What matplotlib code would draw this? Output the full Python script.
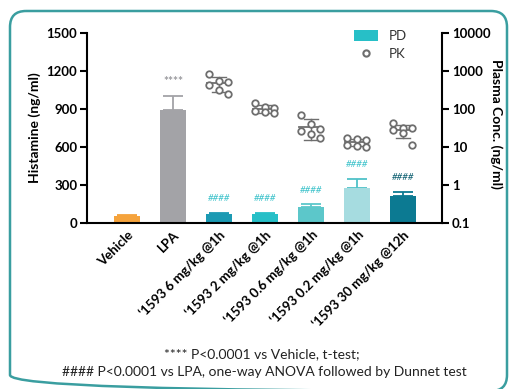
import numpy as np
import matplotlib
matplotlib.use("Agg")
import matplotlib.pyplot as plt
from matplotlib.patches import FancyBboxPatch, Patch
from matplotlib.lines import Line2D

plt.rcParams['font.family'] = ['Lato', 'DejaVu Sans']

# ---- data ----
groups = ["Vehicle", "LPA", "\u20181593 6 mg/kg @1h", "\u20181593 2 mg/kg @1h",
          "\u20181593 0.6 mg/kg @1h", "\u20181593 0.2 mg/kg @1h", "\u20181593 30 mg/kg @12h"]
histamine_mean = [55, 890, 70, 70, 130, 275, 210]
histamine_err = [8, 110, 10, 10, 18, 72, 36]
bar_colors = ["#F5A33C", "#A3A3A7", "#1C9AB3", "#27BFC7", "#5CC7CA", "#A6DCE0", "#0C7A92"]
err_colors = ["#F5A33C", "#A3A3A7", "#1C9AB3", "#27BFC7", "#5CC7CA", "#4FC2C8", "#0C7A92"]

# plasma concentrations (ng/ml) for the dosed groups (bar index 2..6)
pk_6mg = [835, 556, 523, 427, 316, 244]
pk_2mg = [145, 115, 106, 90, 84, 78]
pk_06mg = [70, 40, 30, 26, 22, 17]
pk_02mg = [17.6, 16, 15.3, 11.3, 10.8, 10.2]
pk_30mg = [43.6, 31, 31, 28, 23.3, 11.3]
pk_sets = [pk_6mg, pk_2mg, pk_06mg, pk_02mg, pk_30mg]

left_ticks = [0, 300, 600, 900, 1200, 1500]
right_ticks = [0.1, 1, 10, 100, 1000, 10000]
right_ticklabels = ["0.1", "1", "10", "100", "1000", "10000"]

sig_lpa = "****"
sig_dose = "####"

# ---- figure ----
fig = plt.figure(figsize=(5.10, 3.89), dpi=100)

# background canvas in pixel units for the frame and footnote
bg = fig.add_axes([0, 0, 1, 1], zorder=0)
bg.set_xlim(0, 510)
bg.set_ylim(389, 0)
bg.axis("off")
bg.add_patch(FancyBboxPatch((10, 11), 497, 380, boxstyle="round,pad=0,rounding_size=16",
                            fill=False, edgecolor="#3A9EA0", linewidth=1.8))
bg.text(262, 354, "**** P<0.0001 vs Vehicle, t-test;", ha="center", va="center",
        fontsize=10, color="#222222")
bg.text(264, 372, "#### P<0.0001 vs LPA, one-way ANOVA followed by Dunnet test",
        ha="center", va="center", fontsize=10, color="#222222")

ax = fig.add_axes([87 / 510, 1 - 223 / 389, (442 - 87) / 510, (223 - 33) / 389], zorder=2)
ax.patch.set_alpha(0)
x = np.arange(len(groups))
ax.bar(x, histamine_mean, width=0.57, color=bar_colors, zorder=2)
for xi, m, e, c in zip(x, histamine_mean, histamine_err, err_colors):
    ax.errorbar(xi, m, yerr=[[0], [e]], color=c, capsize=7, elinewidth=1.3,
                capthick=1.3, zorder=1)

ax.set_xlim(-0.87, 6.85)
ax.set_ylim(0, 1500)
ax.set_yticks(left_ticks)
ax.set_xticks(x)
ax.set_xticklabels(groups, rotation=45, ha="right", rotation_mode="anchor",
                   fontsize=9.5, fontweight="bold")
ax.tick_params(axis="x", length=0, pad=4)
ax.tick_params(axis="y", length=5, width=1.5, labelsize=9.5, pad=2)
for lab in ax.get_yticklabels():
    lab.set_fontweight("bold")
for s in ["top", "right"]:
    ax.spines[s].set_visible(False)
ax.spines["left"].set_linewidth(1.5)
ax.spines["bottom"].set_linewidth(1.5)
ax.set_ylabel("Histamine (ng/ml)", fontsize=10, fontweight="bold", labelpad=4)

# significance marks
ax.annotate(sig_lpa, (1, histamine_mean[1] + histamine_err[1]), xytext=(0, 7),
            textcoords="offset points", ha="center", va="bottom",
            fontsize=8.5, fontweight="bold", color="#9A9A9E")
for i in range(2, 7):
    col = "#0C5E70" if i == 6 else "#3EC3CB"
    ax.annotate(sig_dose, (i, histamine_mean[i] + histamine_err[i]), xytext=(0, 7),
                textcoords="offset points", ha="center", va="bottom",
                fontsize=7, style="italic", color=col)

# PK on log secondary axis
ax2 = ax.twinx()
ax2.set_zorder(3)
ax2.set_yscale("log")
ax2.set_ylim(0.1, 10000)
ax2.set_yticks(right_ticks)
ax2.set_yticklabels(right_ticklabels)
ax2.yaxis.set_minor_locator(matplotlib.ticker.NullLocator())
ax2.tick_params(axis="y", length=5, width=1.5, labelsize=9.5, pad=2)
for lab in ax2.get_yticklabels():
    lab.set_fontweight("bold")
for s in ["top", "left", "bottom"]:
    ax2.spines[s].set_visible(False)
ax2.spines["right"].set_linewidth(1.5)
ax2.set_ylabel("Plasma Conc. (ng/ml)", fontsize=10, fontweight="bold",
               rotation=-90, va="center")
ax2.yaxis.set_label_coords((496 - 87) / 355, 0.52)

jitter = [-0.22, 0.0, 0.2, -0.22, 0.0, 0.2]
pk_col = "#6E6E6E"
for gi, vals in zip(range(2, 7), pk_sets):
    vals = np.array(vals, dtype=float)
    m, sd = vals.mean(), vals.std(ddof=1)
    ax2.plot([gi - 0.25, gi + 0.25], [m, m], color=pk_col, lw=1.3, zorder=3)
    ax2.plot([gi, gi], [m - sd, m + sd], color=pk_col, lw=1.0, zorder=3)
    for yv in (m - sd, m + sd):
        ax2.plot([gi - 0.15, gi + 0.15], [yv, yv], color=pk_col, lw=1.0, zorder=3)
    ax2.scatter(gi + np.array(jitter[:len(vals)]), vals, s=22, facecolors="white",
                edgecolors=pk_col, linewidths=1.3, zorder=4)

handles = [Patch(facecolor="#27BFC7", edgecolor="none"),
           Line2D([], [], marker="o", ls="none", markerfacecolor="white",
                  markeredgecolor=pk_col, markeredgewidth=1.5, markersize=4.5)]
ax2.legend(handles, ["PD", "PK"], loc="upper left", bbox_to_anchor=(0.72, 1.08),
           frameon=False, fontsize=9.5, handlelength=1.8, handleheight=0.9,
           labelspacing=0.5, handletextpad=0.8, labelcolor="#333333")

fig.savefig("out.png", dpi=100)
